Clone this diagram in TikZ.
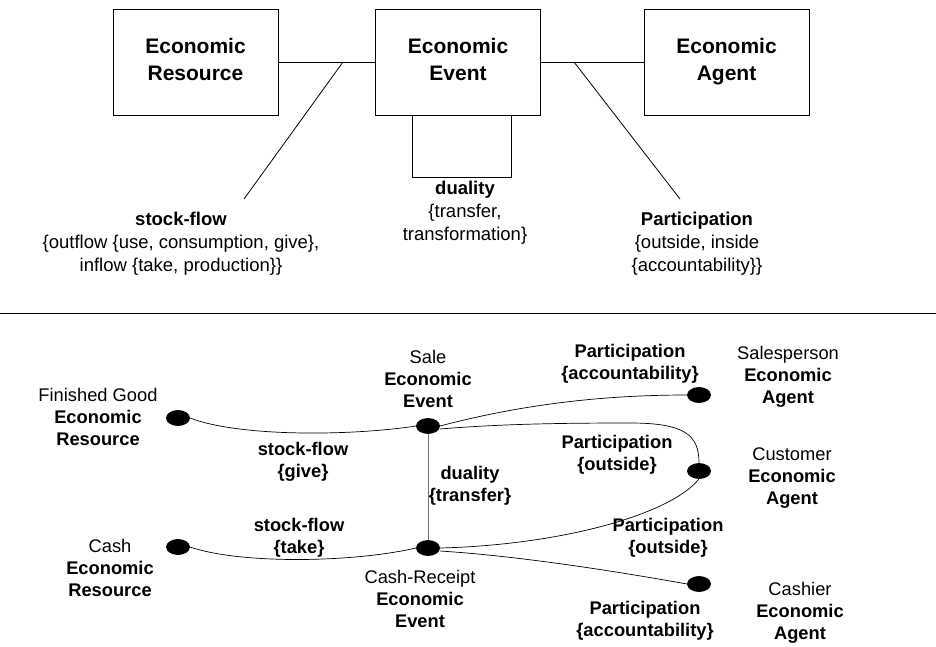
\documentclass[tikz,border=0pt]{standalone}
\usepackage{fontspec}
\setmainfont{Liberation Sans}
\usetikzlibrary{shapes.geometric}
\begin{document}
\begin{tikzpicture}[x=1pt,y=-1pt,
  line width=0.8pt,
  classbox/.style={draw,rectangle,minimum width=165pt,minimum height=106pt,inner sep=0pt,align=center,
    font=\fontsize{21}{27}\selectfont\bfseries},
  note/.style={align=center,inner sep=0pt,font=\fontsize{18.5}{23}\selectfont},
  lbl/.style={align=center,inner sep=0pt,font=\fontsize{18.3}{22}\selectfont},
  blbl/.style={lbl,font=\fontsize{18.3}{22}\selectfont\bfseries},
  dot/.style={draw,fill=black,ellipse,minimum width=23pt,minimum height=15pt,inner sep=0pt},
  link/.style={line width=0.7pt},
  dualline/.style={line width=0.9pt,draw=black!55}]
\useasboundingbox (0,0) rectangle (936,646);

% ---- generic REA pattern ----
\node[classbox] (res) at (195.5,62) {Economic\\Resource\vphantom{g}};
\node[classbox] (ev)  at (458,62)   {Economic\\Event\vphantom{g}};
\node[classbox] (ag)  at (726.5,62) {Economic\\Agent};

\draw (res.east) -- (ev.west);
\draw (ev.east) -- (ag.west);

% self-association of the event (duality)
\draw ([xshift=-46pt]ev.south) -- ++(0,62) -- ++(99,0) -- ++(0,-62);

\coordinate (sfjoin) at (343,62);
\coordinate (sfend)  at (244,199);
\coordinate (pajoin) at (574,62);
\coordinate (paend)  at (680,199);
\draw (sfjoin) -- (sfend);
\draw (pajoin) -- (paend);

\node[note] (sfnote) at (181,244) {\textbf{stock-flow}\\\{outflow \{use, consumption, give\},\\inflow \{take, production\}\}};
\node[note] (dunote) at (465,213) {\textbf{duality}\\\{transfer,\\transformation\}};
\node[note] (panote) at (697,244) {\textbf{Participation}\\\{outside, inside\\\{accountability\}\}};

% separator
\coordinate (sepL) at (0,313);
\coordinate (sepR) at (936,313);
\draw (sepL) -- (sepR);

% ---- sale / cash receipt example ----
\node[dot] (fg)   at (178,418) {};
\node[dot] (cash) at (178,547) {};
\node[dot] (sale) at (428,426) {};
\node[dot] (cr)   at (428,548) {};
\node[dot] (sp)   at (699,395) {};
\node[dot] (cu)   at (699,471) {};
\node[dot] (ca)   at (699,584) {};

\draw[dualline] (sale.south) -- (cr.north);

\draw[link] (fg.east) .. controls (240,437) and (350,436) .. (sale.west);
\draw[link] (cash.east) .. controls (240,564) and (350,563) .. (cr.west);
\draw[link] (sale.east) .. controls (520,405) and (600,395) .. (sp.west);
\draw[link] ([yshift=-3pt]sale.east) .. controls (500,424) and (560,423) .. (630,423)
            .. controls (685,423) and (699,435) .. (cu.north);
\draw[link] (cr.east) .. controls (560,545) and (670,515) .. (cu.south);
\draw[link] ([yshift=-3pt]cr.east) .. controls (520,556) and (620,572) .. (ca.west);

\node[lbl] (fgl)   at (98,417)  {Finished Good\\\textbf{Economic}\\\textbf{Resource}};
\node[lbl] (cashl) at (110,568) {Cash\\\textbf{Economic}\\\textbf{Resource}};
\node[lbl] (salel) at (428,379) {Sale\\\textbf{Economic}\\\textbf{Event}};
\node[lbl] (crl)   at (420,599) {Cash-Receipt\\\textbf{Economic}\\\textbf{Event}};
\node[lbl] (spl)   at (788,377) {Salesperson\\\textbf{Economic}\\\textbf{Agent}};
\node[lbl] (cul)   at (792,478) {Customer\\\textbf{Economic}\\\textbf{Agent}};
\node[lbl] (cal)   at (800,613) {Cashier\\\textbf{Economic}\\\textbf{Agent}};

\node[blbl] (sfg) at (303,462) {stock-flow\\\{give\}};
\node[blbl] (sft) at (299,538) {stock-flow\\\{take\}};
\node[blbl] (dut) at (470,486) {duality\\\{transfer\}};
\node[blbl] (pa1) at (630,364) {Participation\\\{accountability\}};
\node[blbl] (pa2) at (617,455) {Participation\\\{outside\}};
\node[blbl] (pa3) at (668,538) {Participation\\\{outside\}};
\node[blbl] (pa4) at (645,621) {Participation\\\{accountability\}};
\end{tikzpicture}
\end{document}
